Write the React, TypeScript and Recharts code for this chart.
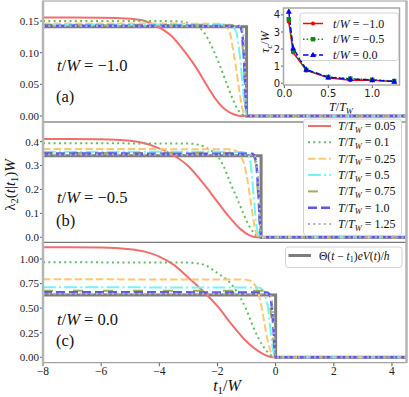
import React from 'react';
import { LineChart, Line, XAxis, YAxis } from 'recharts';

type Pt = [number, number];

// ---------- DATA: panel (a) t/W = -1.0 ----------
const a_T005: Pt[] = [[-8,0.1555],[-6,0.1553],[-5,0.1535],[-4.5,0.150],[-4.2,0.1445],[-3.6,0.127],[-3.1,0.100],[-2.7,0.074],[-2.4,0.051],[-2.05,0.026],[-1.7,0.009],[-1.4,0.002],[-1.15,0],[4.5,0]];
const a_T01: Pt[] = [[-8,0.150],[-3.5,0.1498],[-3.1,0.148],[-2.8,0.143],[-2.5,0.134],[-2.15,0.105],[-1.92,0.080],[-1.69,0.052],[-1.47,0.026],[-1.3,0.010],[-1.12,0.002],[-1.0,0],[4.5,0]];
const a_T025: Pt[] = [[-8,0.146],[-2,0.1458],[-1.8,0.1445],[-1.65,0.138],[-1.55,0.127],[-1.47,0.106],[-1.35,0.073],[-1.24,0.037],[-1.14,0.011],[-1.05,0.001],[-1.0,0],[4.5,0]];
const a_T05: Pt[] = [[-8,0.1445],[-1.6,0.1443],[-1.45,0.14],[-1.35,0.132],[-1.24,0.099],[-1.14,0.052],[-1.06,0.015],[-1.0,0],[4.5,0]];
const a_T075: Pt[] = [[-8,0.1435],[-1.35,0.1432],[-1.2,0.136],[-1.1,0.085],[-1.03,0.02],[-1.0,0],[4.5,0]];
const a_T1: Pt[] = [[-8,0.1425],[-1.25,0.1422],[-1.15,0.131],[-1.07,0.072],[-1.02,0.015],[-1.0,0],[4.5,0]];
const a_T125: Pt[] = [[-8,0.142],[-1.2,0.1417],[-1.1,0.126],[-1.04,0.06],[-1.0,0],[4.5,0]];
const a_step: Pt[] = [[-8,0.141],[-1,0.141],[-1,0],[4.5,0]];

// ---------- DATA: panel (b) t/W = -0.5 ----------
const b_T005: Pt[] = [[-8,0.411],[-6,0.410],[-5,0.404],[-4.5,0.393],[-4,0.372],[-3.5,0.342],[-3,0.297],[-2.5,0.227],[-2,0.148],[-1.6,0.085],[-1.2,0.033],[-0.9,0.008],[-0.65,0],[4.5,0]];
const b_T01: Pt[] = [[-8,0.393],[-3,0.392],[-2.6,0.385],[-2.3,0.368],[-2.0,0.340],[-1.8,0.300],[-1.55,0.225],[-1.3,0.155],[-1.1,0.097],[-0.9,0.045],[-0.75,0.018],[-0.6,0.003],[-0.5,0],[4.5,0]];
const b_T025: Pt[] = [[-8,0.369],[-1.6,0.368],[-1.35,0.36],[-1.2,0.34],[-1.08,0.305],[-0.97,0.24],[-0.87,0.16],[-0.78,0.085],[-0.7,0.03],[-0.6,0.005],[-0.5,0],[4.5,0]];
const b_T05: Pt[] = [[-8,0.358],[-1.15,0.357],[-0.95,0.345],[-0.85,0.30],[-0.76,0.18],[-0.68,0.07],[-0.58,0.01],[-0.5,0],[4.5,0]];
const b_T075: Pt[] = [[-8,0.353],[-0.85,0.352],[-0.72,0.33],[-0.62,0.2],[-0.55,0.06],[-0.5,0],[4.5,0]];
const b_T1: Pt[] = [[-8,0.350],[-0.8,0.349],[-0.68,0.32],[-0.6,0.2],[-0.54,0.06],[-0.5,0],[4.5,0]];
const b_T125: Pt[] = [[-8,0.346],[-0.75,0.345],[-0.64,0.3],[-0.56,0.15],[-0.5,0],[4.5,0]];
const b_step: Pt[] = [[-8,0.341],[-0.5,0.341],[-0.5,0],[4.5,0]];

// ---------- DATA: panel (c) t/W = 0.0 ----------
const c_T005: Pt[] = [[-8,1.119],[-6,1.118],[-5,1.10],[-4.5,1.075],[-4,1.025],[-3.5,0.94],[-3,0.81],[-2.5,0.675],[-2,0.52],[-1.5,0.33],[-1,0.16],[-0.5,0.045],[-0.2,0.006],[0,0],[4.5,0]];
const c_T01: Pt[] = [[-8,0.966],[-3.2,0.965],[-2.8,0.958],[-2.5,0.945],[-2,0.858],[-1.5,0.735],[-1.2,0.60],[-1,0.48],[-0.8,0.33],[-0.6,0.20],[-0.4,0.10],[-0.2,0.03],[-0.05,0.003],[0,0],[4.5,0]];
const c_T025: Pt[] = [[-8,0.793],[-1.2,0.792],[-0.95,0.785],[-0.78,0.76],[-0.65,0.70],[-0.52,0.57],[-0.4,0.37],[-0.28,0.18],[-0.15,0.045],[-0.05,0.005],[0,0],[4.5,0]];
const c_T05: Pt[] = [[-8,0.712],[-0.6,0.71],[-0.45,0.69],[-0.35,0.62],[-0.26,0.50],[-0.18,0.28],[-0.1,0.09],[-0.03,0.01],[0,0],[4.5,0]];
const c_T075: Pt[] = [[-8,0.678],[-0.4,0.676],[-0.28,0.64],[-0.18,0.50],[-0.1,0.25],[-0.03,0.04],[0,0],[4.5,0]];
const c_T1: Pt[] = [[-8,0.661],[-0.3,0.66],[-0.2,0.63],[-0.12,0.48],[-0.06,0.22],[0,0],[4.5,0]];
const c_T125: Pt[] = [[-8,0.646],[-0.25,0.645],[-0.15,0.61],[-0.08,0.40],[0,0],[4.5,0]];
const c_step: Pt[] = [[-8,0.634],[0,0.634],[0,0],[4.5,0]];

// ---------- labels / ticks ----------
const tempLabels = ['0.05', '0.1', '0.25', '0.5', '0.75', '1.0', '1.25'];
const panelTW = ['\u22121.0', '\u22120.5', '0.0'];
const panelTags = ['(a)', '(b)', '(c)'];
const xTicks = [-8, -6, -4, -2, 0, 2, 4];
const yTicksA = [0, 0.05, 0.1, 0.15];
const yTicksB = [0, 0.1, 0.2, 0.3, 0.4];
const yTicksC = [0, 0.25, 0.5, 0.75, 1.0];

// ---------- inset data ----------
const insetT = [0.05, 0.1, 0.25, 0.5, 0.75, 1.0, 1.25];
const tauM10 = [3.6, 1.8, 0.75, 0.32, 0.18, 0.17, 0.1];
const tauM05 = [3.75, 1.87, 0.77, 0.36, 0.27, 0.2, 0.13];
const tau00 = [4.2, 2.05, 0.8, 0.35, 0.24, 0.19, 0.1];
const insetLegend = ['\u22121.0', '\u22120.5', '0.0'];
const insetXTicks = [0, 0.5, 1.0];
const insetYTicks = [0, 1, 2, 3, 4];

// ---------- styles & layout ----------
const SERIF = '"Liberation Serif", "DejaVu Serif", serif';
const SANS = '"DejaVu Sans", sans-serif';
const W = 409, H = 397;
const PL = 43, PR = 406.5;
const XH = 30;
const PANELS = [
  { top: 1, bottom: 122, domain: [-0.0095, 0.1816], ticks: yTicksA, dec: 2, series: [a_T005, a_T01, a_T025, a_T05, a_T075, a_T1, a_T125], step: a_step },
  { top: 122, bottom: 242.3, domain: [-0.021, 0.482], ticks: yTicksB, dec: 1, series: [b_T005, b_T01, b_T025, b_T05, b_T075, b_T1, b_T125], step: b_step },
  { top: 242.3, bottom: 362.7, domain: [-0.055, 1.17], ticks: yTicksC, dec: 2, series: [c_T005, c_T01, c_T025, c_T05, c_T075, c_T1, c_T125], step: c_step },
];
const STYLES = [
  { color: '#f46d6d', w: 2, dash: undefined as string | undefined },
  { color: '#66bb66', w: 2, dash: '2 3.3' },
  { color: '#ffc870', w: 2, dash: '7.4 3.2' },
  { color: '#6ff5f5', w: 2, dash: '12.8 3.2 2 3.2' },
  { color: '#a9a862', w: 2, dash: '10 20' },
  { color: '#5a5ae6', w: 2.5, dash: '9 4' },
  { color: '#b4b4b4', w: 2, dash: '2 3.3' },
];
const STEP_COLOR = '#666666';
const INSET = { l: 283.5, r: 399.5, t: 8, b: 85 };
const INSET_STYLES = [
  { color: '#ff0000', dash: undefined as string | undefined, marker: 'o' },
  { color: '#118811', dash: '1.5 2.2', marker: 's' },
  { color: '#0000ff', dash: '5.5 2.5', marker: '^' },
];

const minus = (s: string) => s.replace('-', '\u2212');
const toObj = (p: Pt[]) => p.map(([t, v]) => ({ t, v }));

function Marker({ kind, cx, cy, color }: { kind: string; cx: number; cy: number; color: string }) {
  if (kind === 's') return <rect x={cx - 2.2} y={cy - 2.2} width={4.4} height={4.4} fill={color} />;
  if (kind === '^') return <path d={`M${cx},${cy - 3.2}L${cx + 3},${cy + 2.2}L${cx - 3},${cy + 2.2}Z`} fill={color} />;
  return <circle cx={cx} cy={cy} r={2} fill={color} />;
}

function Panel({ idx }: { idx: number }) {
  const p = PANELS[idx];
  const showX = idx === 2;
  return (
    <div style={{ position: 'absolute', left: 0, top: 0 }}>
      <LineChart
        width={W}
        height={H}
        margin={{ top: p.top, right: W - PR, left: 0, bottom: showX ? H - p.bottom - XH : H - p.bottom }}
      >
        <XAxis
          dataKey="t"
          type="number"
          domain={[-8, 4.5]}
          allowDataOverflow
          ticks={xTicks}
          interval={0}
          hide={!showX}
          height={showX ? XH : 0}
          axisLine={false}
          tickLine={{ stroke: '#333', strokeWidth: 0.8 }}
          tickSize={3.5}
          tickMargin={1}
          tick={{ fontSize: 11.5, fontFamily: SERIF, fill: '#222' }}
          tickFormatter={(v: number) => minus(String(v))}
        />
        <YAxis
          type="number"
          domain={p.domain as [number, number]}
          allowDataOverflow
          ticks={p.ticks}
          interval={0}
          width={PL}
          axisLine={false}
          tickLine={{ stroke: '#333', strokeWidth: 0.8 }}
          tickSize={3}
          tickMargin={1}
          tick={{ fontSize: 11, fontFamily: SERIF, fill: '#222' }}
          tickFormatter={(v: number) => v.toFixed(p.dec)}
        />
        <Line
          data={toObj(p.step)}
          dataKey="v"
          type="linear"
          stroke={STEP_COLOR}
          strokeOpacity={0.85}
          strokeWidth={3}
          dot={false}
          activeDot={false}
          isAnimationActive={false}
        />
        {p.series.map((s, i) => (
          <Line
            key={i}
            data={toObj(s)}
            dataKey="v"
            type="monotone"
            stroke={STYLES[i].color}
            strokeWidth={STYLES[i].w}
            strokeDasharray={STYLES[i].dash}
            dot={false}
            activeDot={false}
            isAnimationActive={false}
          />
        ))}
      </LineChart>
    </div>
  );
}

function TT({ x, y, value, size }: { x: number; y: number; value: string; size: number }) {
  return (
    <text x={x} y={y} fontSize={size} fontFamily={SERIF} fill="#111">
      <tspan fontStyle="italic">T</tspan>
      <tspan>/</tspan>
      <tspan fontStyle="italic">T</tspan>
      <tspan fontStyle="italic" fontSize={size * 0.7} dy={size * 0.22}>W</tspan>
      <tspan dy={-size * 0.22}>{' = ' + value}</tspan>
    </text>
  );
}

function MainOverlay() {
  const legTop = 119, legGap = 16.35;
  return (
    <svg width={W} height={H} style={{ position: 'absolute', left: 0, top: 0 }}>
      {/* frames */}
      <line x1={PL} y1={1} x2={PR} y2={1} stroke="#9a9a9a" strokeWidth={1} />
      <line x1={PL} y1={122} x2={PR} y2={122} stroke="#555" strokeWidth={1} />
      <line x1={PL} y1={242.3} x2={PR} y2={242.3} stroke="#555" strokeWidth={1} />
      <line x1={PL} y1={362.7} x2={PR} y2={362.7} stroke="#8a8a8a" strokeWidth={1} />
      <line x1={PL} y1={0.5} x2={PL} y2={363} stroke="#b5b5b5" strokeWidth={2.5} />
      <line x1={PR} y1={0.5} x2={PR} y2={363} stroke="#b5b5b5" strokeWidth={2.5} />

      {/* panel annotations */}
      {PANELS.map((p, i) => {
        const yTW = [71, 203, 325][i];
        const yTag = [102, 226, 346][i];
        return (
          <g key={i}>
            <text x={57} y={yTW} fontSize={16.5} fontFamily={SERIF} fill="#111">
              <tspan fontStyle="italic">t</tspan>
              <tspan>/</tspan>
              <tspan fontStyle="italic">W</tspan>
              <tspan>{' = ' + panelTW[i]}</tspan>
            </text>
            <text x={56} y={yTag} fontSize={16.5} fontFamily={SERIF} fill="#111">{panelTags[i]}</text>
          </g>
        );
      })}

      {/* axis labels */}
      <text transform="translate(15,185) rotate(-90)" textAnchor="middle" fontSize={15} fontFamily={SERIF} fill="#111">
        <tspan>{'\u03bb'}</tspan>
        <tspan fontSize={10.5} dy={3}>2</tspan>
        <tspan dy={-3}>(</tspan>
        <tspan fontStyle="italic">t</tspan>
        <tspan>|</tspan>
        <tspan fontStyle="italic">t</tspan>
        <tspan fontSize={10.5} dy={3}>1</tspan>
        <tspan dy={-3}>)</tspan>
        <tspan fontStyle="italic">W</tspan>
      </text>
      <text x={227} y={391} textAnchor="middle" fontSize={16} fontFamily={SERIF} fill="#111">
        <tspan fontStyle="italic">t</tspan>
        <tspan fontSize={11} dy={3}>1</tspan>
        <tspan dy={-3}>/</tspan>
        <tspan fontStyle="italic">W</tspan>
      </text>

      {/* legend panel (b) */}
      <rect x={303.5} y={legTop} width={98} height={116.5} rx={3} fill="#fff" fillOpacity={0.9} stroke="#d2d2d2" strokeWidth={1} />
      {tempLabels.map((lab, i) => {
        const cy = 126 + i * legGap;
        const st = STYLES[i];
        return (
          <g key={i}>
            <line x1={308} y1={cy} x2={331} y2={cy} stroke={st.color} strokeWidth={st.w} strokeDasharray={st.dash} />
            <TT x={338} y={cy + 4} value={lab} size={12} />
          </g>
        );
      })}

      {/* legend panel (c) */}
      <rect x={285.5} y={247} width={116.5} height={20.5} rx={3} fill="#fff" fillOpacity={0.9} stroke="#d2d2d2" strokeWidth={1} />
      <line x1={288.5} y1={255.5} x2={311} y2={255.5} stroke={STEP_COLOR} strokeOpacity={0.85} strokeWidth={3} />
      <text x={319} y={259.5} fontSize={11.5} fontFamily={SERIF} fill="#111">
        <tspan>{'\u0398('}</tspan>
        <tspan fontStyle="italic">t</tspan>
        <tspan>{' \u2212 '}</tspan>
        <tspan fontStyle="italic">t</tspan>
        <tspan fontSize={8} dy={2.5}>1</tspan>
        <tspan dy={-2.5}>)</tspan>
        <tspan fontStyle="italic">eV</tspan>
        <tspan>(</tspan>
        <tspan fontStyle="italic">t</tspan>
        <tspan>)/</tspan>
        <tspan fontStyle="italic">h</tspan>
      </text>
    </svg>
  );
}

function Inset() {
  const data = insetT.map((T, i) => ({ T, a: tauM10[i], b: tauM05[i], c: tau00[i] }));
  const keys = ['a', 'b', 'c'];
  const XHI = 16;
  return (
    <>
      <div
        style={{
          position: 'absolute',
          left: INSET.l,
          top: INSET.t,
          width: INSET.r - INSET.l,
          height: INSET.b - INSET.t,
          background: '#fff',
        }}
      />
      <div style={{ position: 'absolute', left: 0, top: 0 }}>
        <LineChart
          width={W}
          height={H}
          data={data}
          margin={{ top: INSET.t, right: W - INSET.r, left: 0, bottom: H - INSET.b - XHI }}
        >
          <XAxis
            dataKey="T"
            type="number"
            domain={[-0.01, 1.31]}
            allowDataOverflow
            ticks={insetXTicks}
            interval={0}
            height={XHI}
            axisLine={false}
            tickLine={{ stroke: '#333', strokeWidth: 0.8 }}
            tickSize={3}
            tickMargin={2}
            tick={{ fontSize: 10, fontFamily: SANS, fill: '#222' }}
            tickFormatter={(v: number) => v.toFixed(1)}
          />
          <YAxis
            type="number"
            domain={[-0.105, 4.405]}
            allowDataOverflow
            ticks={insetYTicks}
            interval={0}
            width={INSET.l}
            axisLine={false}
            tickLine={{ stroke: '#333', strokeWidth: 0.8 }}
            tickSize={2.5}
            tickMargin={1}
            tick={{ fontSize: 10, fontFamily: SANS, fill: '#222' }}
          />
          {keys.map((k, i) => (
            <Line
              key={k}
              dataKey={k}
              type="linear"
              stroke={INSET_STYLES[i].color}
              strokeWidth={1.5}
              strokeDasharray={INSET_STYLES[i].dash}
              dot={(pr: any) => (
                <Marker key={`m${k}${pr.index}`} kind={INSET_STYLES[i].marker} cx={pr.cx} cy={pr.cy} color={INSET_STYLES[i].color} />
              )}
              activeDot={false}
              isAnimationActive={false}
            />
          ))}
        </LineChart>
      </div>
      <svg width={W} height={H} style={{ position: 'absolute', left: 0, top: 0 }}>
        <rect x={INSET.l} y={INSET.t} width={INSET.r - INSET.l} height={INSET.b - INSET.t} fill="none" stroke="#a8a8a8" strokeWidth={1.5} />
        <rect x={300} y={13} width={98.5} height={47.5} rx={3} fill="#fff" fillOpacity={0.9} stroke="#d2d2d2" strokeWidth={1} />
        {insetLegend.map((lab, i) => {
          const cy = 23.5 + i * 15.7;
          const st = INSET_STYLES[i];
          return (
            <g key={i}>
              <line x1={303} y1={cy} x2={323} y2={cy} stroke={st.color} strokeWidth={1.5} strokeDasharray={st.dash} />
              <Marker kind={st.marker} cx={313} cy={cy} color={st.color} />
              <text x={333} y={cy + 4} fontSize={12} fontFamily={SERIF} fill="#111">
                <tspan fontStyle="italic">t</tspan>
                <tspan>/</tspan>
                <tspan fontStyle="italic">W</tspan>
                <tspan>{' = ' + lab}</tspan>
              </text>
            </g>
          );
        })}
        <text transform="translate(269,42) rotate(-90)" textAnchor="middle" fontSize={12} fontFamily={SERIF} fill="#111">
          <tspan fontStyle="italic">{'\u03c4'}</tspan>
          <tspan fontSize={8.5} dy={2.5} fontStyle="italic">c</tspan>
          <tspan dy={-2.5}>/</tspan>
          <tspan fontStyle="italic">W</tspan>
        </text>
        <text x={341} y={111} textAnchor="middle" fontSize={12} fontFamily={SERIF} fill="#111">
          <tspan fontStyle="italic">T</tspan>
          <tspan>/</tspan>
          <tspan fontStyle="italic">T</tspan>
          <tspan fontStyle="italic" fontSize={8.5} dy={2.5}>W</tspan>
        </text>
      </svg>
    </>
  );
}

export default function App() {
  return (
    <div style={{ position: 'fixed', left: 0, top: 0, width: W, height: H, background: '#fff', overflow: 'hidden' }}>
      <Panel idx={0} />
      <Panel idx={1} />
      <Panel idx={2} />
      <MainOverlay />
      <Inset />
    </div>
  );
}
